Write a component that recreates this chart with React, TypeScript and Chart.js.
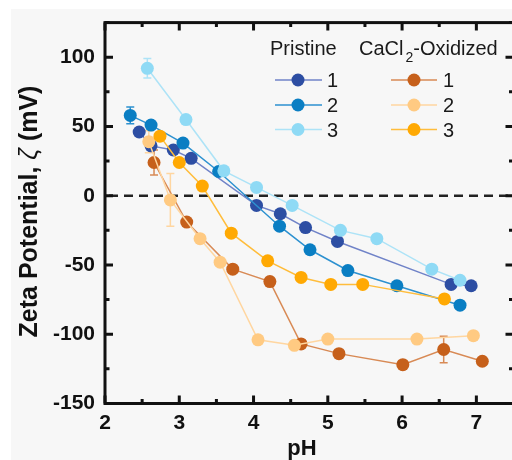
import { useEffect, useRef } from "react";
import { Chart, registerables } from "chart.js";

Chart.register(...registerables);

const FONT = '"Liberation Sans", Arial, Helvetica, sans-serif';

// Zeta potential (mV) versus pH for each sample
const pristine1Ph = [2.46, 2.62, 2.92, 3.16, 4.04, 4.36, 4.7, 5.13, 6.66, 6.93];
const pristine1Zeta = [46, 36, 33, 27, -7, -13, -23, -33, -64, -65];
const pristine1Err = [0, 0, 0, 0, 0, 0, 0, 0, 0, 0];

const pristine2Ph = [2.34, 2.62, 3.05, 3.53, 4.35, 4.76, 5.27, 5.93, 6.78];
const pristine2Zeta = [58, 51, 38, 17.5, -22, -39, -54, -65, -79];
const pristine2Err = [6, 0, 0, 0, 0, 0, 0, 0, 0];

const pristine3Ph = [2.57, 3.09, 3.6, 4.04, 4.52, 5.17, 5.66, 6.4, 6.78];
const pristine3Zeta = [92, 55, 18, 6, -7, -25, -31, -53, -61];
const pristine3Err = [7, 0, 0, 0, 0, 0, 0, 0, 0];

const oxidized1Ph = [2.66, 3.1, 3.72, 4.22, 4.64, 5.15, 6.01, 6.56, 7.08];
const oxidized1Zeta = [24, -19, -53, -62, -107, -114, -122, -111, -119.5];
const oxidized1Err = [9, 0, 0, 3, 0, 0, 0, 9.5, 0];

const oxidized2Ph = [2.59, 2.88, 3.28, 3.55, 4.06, 4.55, 5.0, 6.2, 6.96];
const oxidized2Zeta = [39, -3, -31, -48, -104, -108, -103.5, -103.5, -101];
const oxidized2Err = [8, 19, 0, 0, 0, 0, 0, 0, 0];

const oxidized3Ph = [2.74, 3.0, 3.31, 3.7, 4.19, 4.64, 5.04, 5.47, 6.57];
const oxidized3Zeta = [43, 24, 7, -27, -47, -59, -64, -64, -74.5];
const oxidized3Err = [0, 0, 0, 0, 0, 0, 0, 0, 0];

const seriesLabels = ["1", "2", "3"];
const groupTitles = ["Pristine", "CaCl", "2", "-Oxidized"];

const xTickValues = [2, 3, 4, 5, 6, 7];
const yTickValues = [-150, -100, -50, 0, 50, 100];

const xTitle = "pH";
const yTitleParts = ["Zeta Potential, ", "\u03b6", " (mV)"];

const markerColors = ["#2d4ea3", "#0a7ec3", "#8fdaf5", "#c6601b", "#ffca82", "#ffa903"];
const lineColors = ["#7083c8", "#2d91d0", "#ade3f7", "#d88a55", "#ffd6a0", "#ffbd3c"];

const series = [
  { ph: pristine1Ph, zeta: pristine1Zeta, err: pristine1Err },
  { ph: pristine2Ph, zeta: pristine2Zeta, err: pristine2Err },
  { ph: pristine3Ph, zeta: pristine3Zeta, err: pristine3Err },
  { ph: oxidized1Ph, zeta: oxidized1Zeta, err: oxidized1Err },
  { ph: oxidized2Ph, zeta: oxidized2Zeta, err: oxidized2Err },
  { ph: oxidized3Ph, zeta: oxidized3Zeta, err: oxidized3Err },
];

const decorPlugin = {
  id: "decor",
  beforeDraw(chart: any) {
    const ctx = chart.ctx;
    ctx.save();
    ctx.fillStyle = "#ffffff";
    ctx.fillRect(0, 0, chart.width, chart.height);
    ctx.fillStyle = "#f7f7f7";
    ctx.fillRect(11, 9, chart.width, chart.height);
    ctx.restore();
  },
  beforeDatasetsDraw(chart: any) {
    const ctx = chart.ctx;
    const xs = chart.scales.x;
    const ys = chart.scales.y;
    const area = chart.chartArea;
    ctx.save();
    // dashed zero line
    ctx.strokeStyle = "#222";
    ctx.lineWidth = 2.5;
    ctx.setLineDash([9, 6]);
    const y0 = ys.getPixelForValue(0);
    ctx.beginPath();
    ctx.moveTo(area.left + 4, y0);
    ctx.lineTo(area.right, y0);
    ctx.stroke();
    ctx.setLineDash([]);
    // error bars
    series.forEach((s, i) => {
      ctx.strokeStyle = lineColors[i];
      ctx.lineWidth = 1.5;
      s.err.forEach((e, j) => {
        if (!e) return;
        const px = xs.getPixelForValue(s.ph[j]);
        const top = ys.getPixelForValue(s.zeta[j] + e);
        const bot = ys.getPixelForValue(s.zeta[j] - e);
        ctx.beginPath();
        ctx.moveTo(px, top);
        ctx.lineTo(px, bot);
        ctx.moveTo(px - 4, top);
        ctx.lineTo(px + 4, top);
        ctx.moveTo(px - 4, bot);
        ctx.lineTo(px + 4, bot);
        ctx.stroke();
      });
    });
    ctx.restore();
  },
  afterDraw(chart: any) {
    const ctx = chart.ctx;
    const xs = chart.scales.x;
    const ys = chart.scales.y;
    const { left, right, top, bottom } = chart.chartArea;
    ctx.save();
    // frame
    ctx.strokeStyle = "#111";
    ctx.lineWidth = 3;
    ctx.lineCap = "square";
    ctx.strokeRect(left, top, right - left, bottom - top);
    ctx.lineCap = "butt";
    // x ticks (bottom and top, pointing inward)
    for (let v = 2; v <= 7.5001; v += 0.5) {
      const px = xs.getPixelForValue(v);
      const len = Math.abs(v - Math.round(v)) < 1e-6 ? 8 : 4.5;
      ctx.beginPath();
      ctx.moveTo(px, bottom);
      ctx.lineTo(px, bottom - len);
      ctx.moveTo(px, top);
      ctx.lineTo(px, top + len);
      ctx.stroke();
    }
    // y ticks (left and right, pointing inward)
    for (let v = -150; v <= 125.001; v += 25) {
      const py = ys.getPixelForValue(v);
      const len = v % 50 === 0 ? 8 : 4.5;
      ctx.beginPath();
      ctx.moveTo(left, py);
      ctx.lineTo(left + len, py);
      ctx.moveTo(right, py);
      ctx.lineTo(right - len, py);
      ctx.stroke();
    }

    // axis titles
    ctx.fillStyle = "#111";
    ctx.font = `bold 22px ${FONT}`;
    ctx.textAlign = "center";
    ctx.textBaseline = "alphabetic";
    ctx.fillText(xTitle, 302, 455);

    ctx.save();
    ctx.translate(37, 211.5);
    ctx.rotate(-Math.PI / 2);
    const fBold = `bold 25px ${FONT}`;
    const fGreek = `italic 25px ${FONT}`;
    ctx.font = fBold;
    const w1 = ctx.measureText(yTitleParts[0]).width;
    const w3 = ctx.measureText(yTitleParts[2]).width;
    ctx.font = fGreek;
    const w2 = ctx.measureText(yTitleParts[1]).width;
    let x = -(w1 + w2 + w3) / 2;
    ctx.textAlign = "left";
    ctx.font = fBold;
    ctx.fillText(yTitleParts[0], x, 0);
    x += w1;
    ctx.font = fGreek;
    ctx.fillText(yTitleParts[1], x, 0);
    x += w2;
    ctx.font = fBold;
    ctx.fillText(yTitleParts[2], x, 0);
    ctx.restore();

    // legend
    ctx.textAlign = "left";
    ctx.textBaseline = "alphabetic";
    ctx.font = `20px ${FONT}`;
    ctx.fillStyle = "#1a1a1a";
    ctx.fillText(groupTitles[0], 270, 55);
    let gx = 359;
    ctx.fillText(groupTitles[1], gx, 55);
    gx += ctx.measureText(groupTitles[1]).width + 2;
    ctx.font = `14px ${FONT}`;
    ctx.fillText(groupTitles[2], gx, 62);
    gx += ctx.measureText(groupTitles[2]).width;
    ctx.font = `20px ${FONT}`;
    ctx.fillText(groupTitles[3], gx, 55);

    const rows = [80, 105, 129.5];
    const cols = [
      { x0: 275, x1: 322, mx: 298, tx: 327 },
      { x0: 391, x1: 437, mx: 414, tx: 443 },
    ];
    cols.forEach((c, ci) => {
      rows.forEach((ry, ri) => {
        const k = ci * 3 + ri;
        ctx.strokeStyle = lineColors[k];
        ctx.lineWidth = 1.6;
        ctx.beginPath();
        ctx.moveTo(c.x0, ry);
        ctx.lineTo(c.x1, ry);
        ctx.stroke();
        ctx.fillStyle = markerColors[k];
        ctx.beginPath();
        ctx.arc(c.mx, ry, 6.5, 0, Math.PI * 2);
        ctx.fill();
        ctx.fillStyle = "#1a1a1a";
        ctx.font = `20px ${FONT}`;
        ctx.fillText(seriesLabels[ri], c.tx, ry + 7);
      });
    });
    ctx.restore();
  },
};

export default function App() {
  const canvasRef = useRef<HTMLCanvasElement | null>(null);

  useEffect(() => {
    const canvas = canvasRef.current;
    if (!canvas) return;
    const datasets = series.map((s, i) => ({
      label: `series-${i}`,
      data: s.ph.map((p, j) => ({ x: p, y: s.zeta[j] })),
      showLine: true,
      borderColor: lineColors[i],
      borderWidth: 1.5,
      backgroundColor: markerColors[i],
      pointBackgroundColor: markerColors[i],
      pointBorderColor: markerColors[i],
      pointBorderWidth: 0,
      pointRadius: 6.5,
      tension: 0,
      order: series.length - i,
    }));

    const tickFont = { family: FONT, size: 21, weight: "bold" as const };

    const chart = new Chart(canvas, {
      type: "scatter",
      data: { datasets },
      options: {
        animation: false,
        responsive: false,
        devicePixelRatio: 1,
        layout: { padding: { left: 0, right: 2.5, top: 17.5, bottom: 0 } },
        plugins: {
          legend: { display: false },
          tooltip: { enabled: false },
        },
        scales: {
          x: {
            type: "linear",
            min: 2,
            max: 7.5,
            grid: { display: false, drawTicks: false },
            border: { display: false },
            ticks: {
              font: tickFont,
              color: "#111",
              padding: 7,
              maxRotation: 0,
              autoSkip: false,
            },
            afterBuildTicks: (scale: any) => {
              scale.ticks = xTickValues.map((value) => ({ value }));
            },
            afterFit: (scale: any) => {
              scale.height = 56.5;
            },
          },
          y: {
            type: "linear",
            min: -150,
            max: 125,
            grid: { display: false, drawTicks: false },
            border: { display: false },
            ticks: {
              font: tickFont,
              color: "#111",
              padding: 10,
              autoSkip: false,
            },
            afterBuildTicks: (scale: any) => {
              scale.ticks = yTickValues.map((value) => ({ value }));
            },
            afterFit: (scale: any) => {
              scale.width = 105;
            },
          },
        },
      },
      plugins: [decorPlugin],
    });

    return () => chart.destroy();
  }, []);

  return (
    <div
      style={{
        position: "fixed",
        left: 0,
        top: 0,
        width: 512,
        height: 460,
        overflow: "hidden",
        background: "#ffffff",
      }}
    >
      <canvas
        ref={canvasRef}
        width={520}
        height={460}
        style={{ width: 520, height: 460, display: "block" }}
      />
    </div>
  );
}
